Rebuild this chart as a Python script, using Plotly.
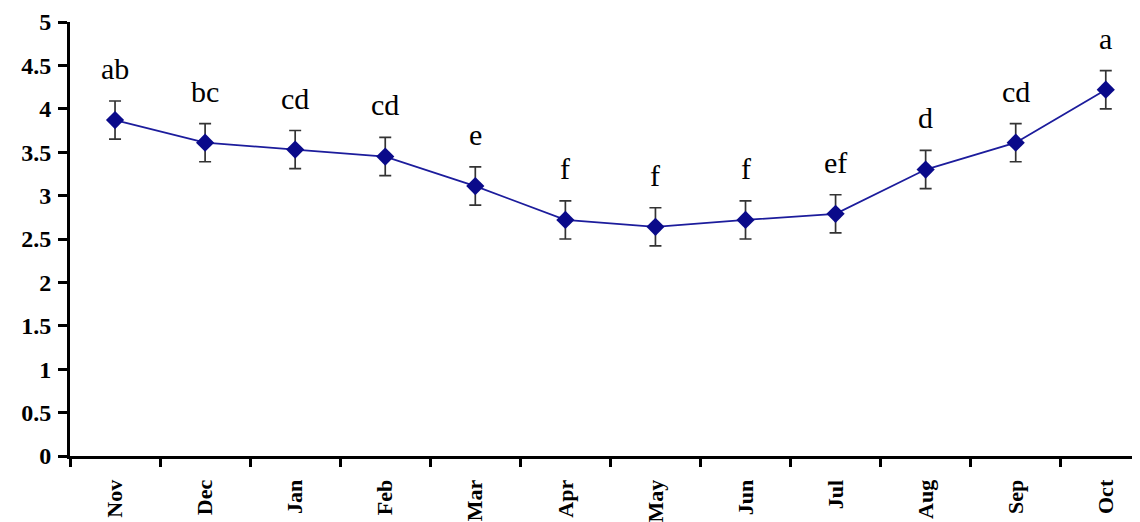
import plotly.graph_objects as go

months = ["Nov", "Dec", "Jan", "Feb", "Mar", "Apr", "May", "Jun", "Jul", "Aug", "Sep", "Oct"]
values = [3.87, 3.61, 3.53, 3.45, 3.11, 2.72, 2.64, 2.72, 2.79, 3.30, 3.61, 4.22]
errors = [0.22, 0.22, 0.22, 0.22, 0.22, 0.22, 0.22, 0.22, 0.22, 0.22, 0.22, 0.22]
letters = ["ab", "bc", "cd", "cd", "e", "f", "f", "f", "ef", "d", "cd", "a"]
y_ticks = [0, 0.5, 1, 1.5, 2, 2.5, 3, 3.5, 4, 4.5, 5]

serif = "Liberation Serif, Times New Roman, serif"

fig = go.Figure()
fig.add_trace(go.Scatter(
    x=months, y=values,
    mode="lines+markers",
    line=dict(color="#1c1c9c", width=1.8),
    marker=dict(symbol="diamond", size=14, color="#0a0a8a"),
    error_y=dict(type="data", array=errors, visible=True,
                 color="#333333", thickness=1.7, width=6),
    showlegend=False,
))

for m, v, e, t in zip(months, values, errors, letters):
    fig.add_annotation(x=m, y=v + e, text=t, showarrow=False,
                       yanchor="bottom", yshift=14,
                       font=dict(family=serif, size=30, color="black"))

fig.update_layout(
    width=1132, height=514,
    margin=dict(l=62, r=0, t=14, b=66),
    paper_bgcolor="white", plot_bgcolor="white",
    xaxis=dict(
        type="category",
        range=[-0.5, 11.38],
        tickangle=-90, tickson="boundaries",
        ticks="outside", ticklen=8, tickwidth=3, tickcolor="black",
        showline=True, linecolor="black", linewidth=3,
        showgrid=False, zeroline=False, automargin=False,
        tickfont=dict(family=serif, size=22, color="black", weight="bold"),
        ticklabelstandoff=12,
    ),
    yaxis=dict(
        range=[0, 5],
        tickmode="array", tickvals=y_ticks, ticktext=[f"{t:g}" for t in y_ticks],
        ticks="outside", ticklen=9, tickwidth=3, tickcolor="black",
        showline=True, linecolor="black", linewidth=3,
        showgrid=False, zeroline=False, automargin=False,
        tickfont=dict(family=serif, size=24, color="black", weight="bold"),
        ticklabelstandoff=2,
    ),
)

fig.write_html("out.html")
